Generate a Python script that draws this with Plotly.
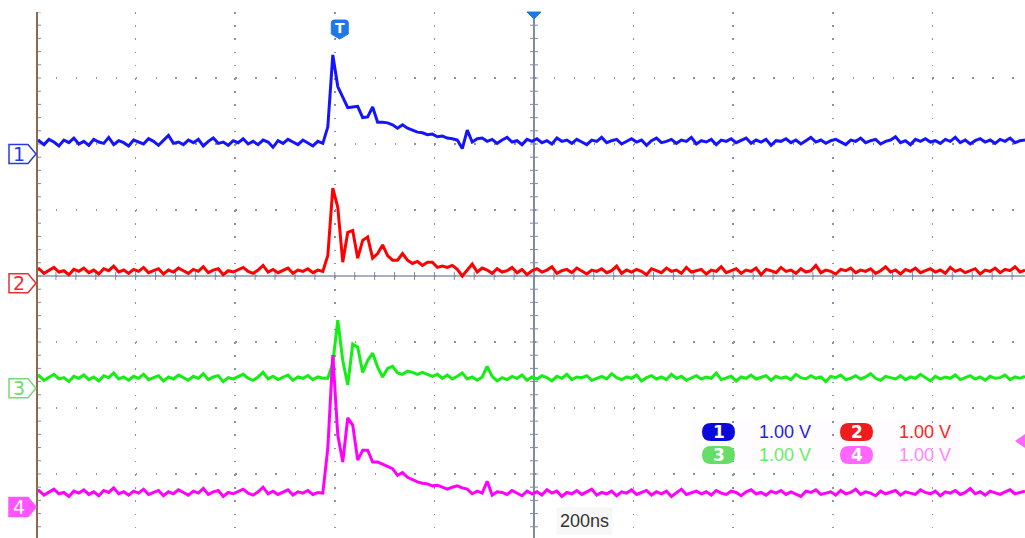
import plotly.graph_objects as go

# ---------------- scope settings ----------------
NS_PER_DIV = 200
VOLTS_PER_DIV = 1.0
T_START_NS = -1004
T_STEP_NS = 10
TRIG_NS = -390
X_RANGE = [-1000, 986]
Y_RANGE = [-3.97, 4.0]

ch_labels = ["1", "2", "3", "4"]
ch_scale_text = ["1.00 V", "1.00 V", "1.00 V", "1.00 V"]
ch_offset_div = [1.85, -0.11, -1.70, -3.50]
time_label = "200ns"

# ---------------- sampled voltages (V), one sample every 10 ns ----------------
ch1_v = [
    0.17, 0.20, 0.14, 0.22, 0.18, 0.12, 0.21, 0.17, 0.24, 0.15,
    0.19, 0.13, 0.22, 0.18, 0.16, 0.25, 0.14, 0.20, 0.17, 0.12,
    0.21, 0.18, 0.15, 0.23, 0.19, 0.13, 0.20, 0.28, 0.16, 0.18,
    0.14, 0.21, 0.17, 0.22, 0.12, 0.19, 0.24, 0.16, 0.18, 0.13,
    0.20, 0.17, 0.23, 0.15, 0.19, 0.14, 0.21, 0.18, 0.10, 0.20,
    0.16, 0.22, 0.18, 0.14, 0.21, 0.17, 0.12, 0.19, 0.16,
    0.41, 1.50, 1.02, 0.86, 0.70, 0.71, 0.72, 0.55, 0.56, 0.71,
    0.48, 0.48, 0.47, 0.44, 0.39, 0.44, 0.39, 0.36, 0.33, 0.32,
    0.29, 0.30, 0.26, 0.27, 0.24, 0.23, 0.21, 0.08, 0.36, 0.18,
    0.23, 0.24,
    0.19, 0.22, 0.16, 0.21, 0.25, 0.18, 0.20, 0.14, 0.22, 0.19,
    0.23, 0.17, 0.20, 0.15, 0.24, 0.19, 0.21, 0.16, 0.22, 0.18,
    0.14, 0.21, 0.19, 0.25, 0.17, 0.20, 0.22, 0.15, 0.19, 0.23,
    0.18, 0.21, 0.13, 0.20, 0.24, 0.17, 0.19, 0.22, 0.16, 0.21,
    0.19, 0.25, 0.15, 0.20, 0.18, 0.22, 0.14, 0.21, 0.19, 0.23,
    0.17, 0.20, 0.24, 0.16, 0.21, 0.18, 0.22, 0.13, 0.20, 0.19,
    0.23, 0.17, 0.21, 0.15, 0.20, 0.25, 0.18, 0.21, 0.16, 0.20,
    0.22, 0.18, 0.14, 0.21, 0.19, 0.24, 0.17, 0.20, 0.22, 0.15,
    0.19, 0.21, 0.26, 0.17, 0.20, 0.14, 0.22, 0.19, 0.23, 0.18,
    0.20, 0.16, 0.22, 0.19, 0.25, 0.17, 0.21, 0.15, 0.20, 0.23,
    0.18, 0.21, 0.16, 0.22, 0.19, 0.24, 0.17, 0.20, 0.21,
]

ch2_v = [
    0.18, 0.22, 0.15, 0.20, 0.24, 0.17, 0.19, 0.13, 0.21, 0.18,
    0.23, 0.16, 0.20, 0.14, 0.22, 0.19, 0.26, 0.17, 0.20, 0.15,
    0.21, 0.18, 0.24, 0.16, 0.19, 0.22, 0.14, 0.20, 0.17, 0.23,
    0.19, 0.15, 0.21, 0.18, 0.25, 0.16, 0.20, 0.22, 0.13, 0.19,
    0.17, 0.21, 0.24, 0.18, 0.15, 0.20, 0.27, 0.17, 0.21, 0.16,
    0.19, 0.23, 0.15, 0.20, 0.18, 0.22, 0.16, 0.20, 0.18,
    0.42, 1.44, 1.15, 0.32, 0.77, 0.80, 0.38, 0.65, 0.70, 0.38,
    0.45, 0.58, 0.42, 0.35, 0.35, 0.45, 0.35, 0.30, 0.33, 0.27,
    0.32, 0.32, 0.24, 0.26, 0.24, 0.27, 0.21, 0.11, 0.20, 0.29,
    0.17, 0.23,
    0.20, 0.15, 0.22, 0.17, 0.19, 0.24, 0.16, 0.21, 0.13, 0.19,
    0.22, 0.17, 0.20, 0.25, 0.15, 0.19, 0.21, 0.16, 0.23, 0.18,
    0.14, 0.20, 0.18, 0.22, 0.16, 0.19, 0.26, 0.15, 0.20, 0.17,
    0.21, 0.18, 0.13, 0.22, 0.19, 0.16, 0.23, 0.18, 0.20, 0.15,
    0.24, 0.17, 0.19, 0.21, 0.14, 0.20, 0.18, 0.25, 0.16, 0.19,
    0.22, 0.15, 0.20, 0.18, 0.23, 0.13, 0.21, 0.19, 0.16, 0.24,
    0.18, 0.20, 0.15, 0.22, 0.17, 0.19, 0.27, 0.16, 0.20, 0.18,
    0.14, 0.21, 0.19, 0.23, 0.16, 0.20, 0.18, 0.22, 0.15, 0.19,
    0.25, 0.17, 0.20, 0.14, 0.21, 0.18, 0.23, 0.16, 0.19, 0.22,
    0.17, 0.20, 0.15, 0.24, 0.18, 0.21, 0.16, 0.19, 0.22, 0.14,
    0.20, 0.18, 0.23, 0.16, 0.21, 0.19, 0.25, 0.17, 0.20,
]

ch3_v = [
    0.15, 0.19, 0.12, 0.17, 0.21, 0.14, 0.16, 0.10, 0.18, 0.15,
    0.20, 0.13, 0.17, 0.11, 0.19, 0.16, 0.23, 0.14, 0.17, 0.12,
    0.18, 0.15, 0.21, 0.13, 0.16, 0.19, 0.11, 0.17, 0.14, 0.20,
    0.16, 0.12, 0.18, 0.15, 0.22, 0.13, 0.17, 0.19, 0.10, 0.16,
    0.14, 0.18, 0.21, 0.15, 0.12, 0.17, 0.24, 0.14, 0.18, 0.13,
    0.16, 0.20, 0.12, 0.17, 0.15, 0.19, 0.13, 0.17, 0.15,
    0.15, 0.38, 1.03, 0.42, 0.05, 0.67, 0.62, 0.24, 0.42, 0.53,
    0.32, 0.17, 0.30, 0.33, 0.23, 0.21, 0.26, 0.24, 0.21, 0.24,
    0.21, 0.18, 0.21, 0.15, 0.20, 0.14, 0.18, 0.23, 0.14, 0.17,
    0.12, 0.17, 0.33, 0.18, 0.11,
    0.16, 0.13, 0.18, 0.15, 0.20, 0.12, 0.17, 0.14, 0.19, 0.16,
    0.11, 0.18, 0.15, 0.21, 0.13, 0.17, 0.16, 0.19, 0.12, 0.15,
    0.18, 0.14, 0.22, 0.16, 0.13, 0.17, 0.15, 0.20, 0.11, 0.16,
    0.19, 0.14, 0.17, 0.13, 0.21, 0.15, 0.18, 0.12, 0.16, 0.19,
    0.14, 0.17, 0.15, 0.23, 0.13, 0.16, 0.18, 0.11, 0.17, 0.15,
    0.20, 0.14, 0.16, 0.19, 0.12, 0.18, 0.15, 0.17, 0.13, 0.21,
    0.16, 0.14, 0.19, 0.15, 0.17, 0.10, 0.18, 0.16, 0.20, 0.13,
    0.15, 0.19, 0.14, 0.17, 0.22, 0.15, 0.12, 0.18, 0.16, 0.14,
    0.19, 0.13, 0.17, 0.15, 0.21, 0.16, 0.11, 0.18, 0.14, 0.17,
    0.15, 0.20, 0.13, 0.16, 0.19, 0.14, 0.17, 0.12, 0.18, 0.15,
    0.16, 0.20, 0.13, 0.17, 0.15, 0.18,
]

ch4_v = [
    0.21, 0.25, 0.18, 0.23, 0.27, 0.20, 0.22, 0.16, 0.24, 0.21,
    0.26, 0.19, 0.23, 0.17, 0.25, 0.22, 0.29, 0.20, 0.23, 0.18,
    0.24, 0.21, 0.27, 0.19, 0.22, 0.25, 0.17, 0.23, 0.20, 0.26,
    0.22, 0.18, 0.24, 0.21, 0.28, 0.19, 0.23, 0.25, 0.16, 0.22,
    0.20, 0.24, 0.27, 0.21, 0.18, 0.23, 0.30, 0.20, 0.24, 0.19,
    0.22, 0.26, 0.18, 0.23, 0.21, 0.25, 0.19, 0.22, 0.21,
    0.89, 2.30, 1.09, 0.68, 1.35, 1.24, 0.71, 0.86, 0.86, 0.68,
    0.68, 0.65, 0.61, 0.58, 0.48, 0.52, 0.45, 0.41, 0.38, 0.36,
    0.35, 0.32, 0.33, 0.30, 0.27, 0.30, 0.32, 0.29, 0.27, 0.20,
    0.24, 0.21, 0.39, 0.18, 0.23,
    0.22, 0.19, 0.25, 0.21, 0.17, 0.24, 0.20, 0.23, 0.18, 0.26,
    0.21, 0.24, 0.16, 0.22, 0.20, 0.25, 0.19, 0.23, 0.27, 0.18,
    0.22, 0.20, 0.24, 0.17, 0.23, 0.21, 0.26, 0.19, 0.22, 0.25,
    0.18, 0.23, 0.20, 0.24, 0.16, 0.22, 0.27, 0.19, 0.21, 0.24,
    0.20, 0.23, 0.18, 0.25, 0.21, 0.19, 0.24, 0.22, 0.17, 0.23,
    0.26, 0.20, 0.22, 0.18, 0.24, 0.21, 0.25, 0.19, 0.23, 0.20,
    0.16, 0.24, 0.22, 0.26, 0.19, 0.21, 0.23, 0.18, 0.25, 0.20,
    0.22, 0.27, 0.19, 0.23, 0.21, 0.17, 0.24, 0.20, 0.22, 0.25,
    0.18, 0.23, 0.21, 0.19, 0.26, 0.22, 0.20, 0.24, 0.17, 0.23,
    0.21, 0.25, 0.19, 0.22, 0.28, 0.20, 0.23, 0.18, 0.24, 0.21,
    0.19, 0.23, 0.26, 0.20, 0.22, 0.24,
]

ch_values = [ch1_v, ch2_v, ch3_v, ch4_v]
n_samples = len(ch1_v)
t_ns = [T_START_NS + T_STEP_NS * i for i in range(n_samples)]

# ---------------- styles ----------------
trace_colors = ["#1414ff", "#ff0000", "#14ee14", "#ff00ff"]
marker_line_colors = ["#2a3ae0", "#e83030", "#70dd70", "#ff55ff"]
marker_fill_colors = ["#ffffff", "#ffffff", "#ffffff", "#ff55ff"]
marker_text_colors = ["#2a3ae0", "#e83030", "#70dd70", "#ffffff"]
pill_colors = ["#0a0adc", "#ee1c1c", "#66dd66", "#ff66ff"]
scale_text_colors = ["#2222e6", "#ff2222", "#66ee66", "#ff88ff"]
GRID_COLOR = "#8a92aa"
CENTER_COLOR = "#7f8aa6"
EDGE_COLOR = "#8a6a48"
ACCENT_BLUE = "#1e78e6"

W, H = 1025, 538
ML, MT = 36, 12
PW, PH = W - ML, H - MT


def pxx(px):
    return (px - ML) / PW


def pxy(py):
    return (H - py) / PH


def div2paper(d):
    return (d - Y_RANGE[0]) / (Y_RANGE[1] - Y_RANGE[0])


fig = go.Figure()
for vals, off, col, lab in zip(ch_values, ch_offset_div, trace_colors, ch_labels):
    fig.add_trace(go.Scatter(
        x=t_ns, y=[off + v / VOLTS_PER_DIV for v in vals],
        mode="lines", line=dict(color=col, width=3),
        name="CH" + lab, showlegend=False, hoverinfo="skip"))

shapes = []
annotations = []

# centre cross lines
shapes.append(dict(type="line", xref="x", yref="y", x0=0, x1=0, y0=Y_RANGE[0], y1=Y_RANGE[1],
                   line=dict(color=CENTER_COLOR, width=2), layer="between"))
shapes.append(dict(type="line", xref="x", yref="y", x0=X_RANGE[0], x1=X_RANGE[1], y0=0, y1=0,
                   line=dict(color="#8c94ab", width=1.5), layer="between"))

# tick marks on the centre lines and on the left edge
minor_x = NS_PER_DIV / 5
minor_y = 0.2
segs = []
k = 0
while X_RANGE[0] + k * minor_x <= X_RANGE[1]:
    xx = X_RANGE[0] + k * minor_x
    segs.append("M%.2f,%.4f L%.2f,%.4f" % (xx, -0.06, xx, 0.06))
    k += 1
k = 0
while Y_RANGE[1] - k * minor_y >= Y_RANGE[0]:
    yy = Y_RANGE[1] - k * minor_y
    segs.append("M%.2f,%.4f L%.2f,%.4f" % (-8, yy, 8, yy))
    segs.append("M%.2f,%.4f L%.2f,%.4f" % (X_RANGE[0], yy, X_RANGE[0] + 10, yy))
    k += 1
shapes.append(dict(type="path", xref="x", yref="y", path=" ".join(segs),
                   line=dict(color=CENTER_COLOR, width=1), layer="between"))

# left edge line
shapes.append(dict(type="line", xref="paper", yref="paper", x0=0.001, x1=0.001, y0=0, y1=1,
                   line=dict(color=EDGE_COLOR, width=2), layer="above"))

# channel ground markers
for lab, off, lc, fc, tc in zip(ch_labels, ch_offset_div, marker_line_colors,
                                marker_fill_colors, marker_text_colors):
    yc = div2paper(off)
    hh = 9.5 / PH
    x0, x1, xt = pxx(9), pxx(28), pxx(36)
    path = "M%.5f,%.5f L%.5f,%.5f L%.5f,%.5f L%.5f,%.5f L%.5f,%.5f Z" % (
        x0, yc + hh, x1, yc + hh, xt, yc, x1, yc - hh, x0, yc - hh)
    shapes.append(dict(type="path", xref="paper", yref="paper", path=path,
                       fillcolor=fc, line=dict(color=lc, width=1.5), layer="above"))
    annotations.append(dict(xref="paper", yref="paper", x=pxx(19), y=yc, text=lab,
                            showarrow=False, xanchor="center", yanchor="middle",
                            font=dict(family="DejaVu Sans", size=19, color=tc)))

# trigger marker "T"
half = 8.5 / 0.498
top, body, tip = pxy(20), pxy(34), pxy(39)
rr = 3 / PH
shield = ("M%.2f,%.5f L%.2f,%.5f Q%.2f,%.5f %.2f,%.5f L%.2f,%.5f L%.2f,%.5f L%.2f,%.5f "
          "L%.2f,%.5f Q%.2f,%.5f %.2f,%.5f Z") % (
    TRIG_NS - half + 6, top, TRIG_NS + half - 6, top, TRIG_NS + half, top, TRIG_NS + half, top - rr,
    TRIG_NS + half, body, TRIG_NS, tip, TRIG_NS - half, body,
    TRIG_NS - half, top - rr, TRIG_NS - half, top, TRIG_NS - half + 6, top)
shapes.append(dict(type="path", xref="x", yref="paper", path=shield,
                   fillcolor=ACCENT_BLUE, line=dict(color=ACCENT_BLUE, width=1), layer="above"))
annotations.append(dict(xref="x", yref="paper", x=TRIG_NS, y=pxy(28), text="<b>T</b>",
                        showarrow=False, xanchor="center", yanchor="middle",
                        font=dict(family="DejaVu Sans", size=14, color="#ffffff")))

# time reference triangle at top centre
tri_half = 7 / 0.498
shapes.append(dict(type="path", xref="x", yref="paper",
                   path="M%.2f,1 L%.2f,1 L0,%.5f Z" % (-tri_half, tri_half, pxy(19)),
                   fillcolor=ACCENT_BLUE, line=dict(color=ACCENT_BLUE, width=1), layer="above"))

# channel scale legend
legend_rows = [(432, 0), (455, 1)]
pill_x = [(702, 735), (840, 873)]
text_x = [757, 897]
shapes.append(dict(type="rect", xref="paper", yref="paper", x0=pxx(690), x1=pxx(960),
                   y0=pxy(469), y1=pxy(420), fillcolor="#fefcfe", line=dict(width=0), layer="between"))
for idx, lab in enumerate(ch_labels):
    row = idx // 2
    col = idx % 2
    yc_px = legend_rows[row][0]
    xa, xb = pill_x[col]
    r = 9
    pts = [
        ("M", [(xa + r, yc_px - r)]),
        ("L", [(xb - r, yc_px - r)]),
        ("Q", [(xb, yc_px - r), (xb, yc_px)]),
        ("Q", [(xb, yc_px + r), (xb - r, yc_px + r)]),
        ("L", [(xa + r, yc_px + r)]),
        ("Q", [(xa, yc_px + r), (xa, yc_px)]),
        ("Q", [(xa, yc_px - r), (xa + r, yc_px - r)]),
    ]
    path = " ".join(c + " ".join("%.5f,%.5f" % (pxx(px), pxy(py)) for px, py in p) for c, p in pts) + " Z"
    shapes.append(dict(type="path", xref="paper", yref="paper", path=path,
                       fillcolor=pill_colors[idx], line=dict(width=0), layer="above"))
    annotations.append(dict(xref="paper", yref="paper", x=pxx((xa + xb) / 2), y=pxy(yc_px),
                            text="<b>%s</b>" % lab, showarrow=False, xanchor="center", yanchor="middle",
                            font=dict(family="DejaVu Sans", size=17, color="#ffffff")))
    annotations.append(dict(xref="paper", yref="paper", x=pxx(text_x[col]), y=pxy(yc_px),
                            text=ch_scale_text[idx], showarrow=False, xanchor="left", yanchor="middle",
                            font=dict(family="Liberation Sans", size=18, color=scale_text_colors[idx])))

# channel 4 trigger level marker on the right
shapes.append(dict(type="path", xref="paper", yref="paper",
                   path="M%.5f,%.5f L%.5f,%.5f L%.5f,%.5f Z" % (
                       pxx(1015), pxy(441), pxx(1025), pxy(434), pxx(1025), pxy(448)),
                   fillcolor="#ff66ff", line=dict(width=0), layer="above"))

# time base label
annotations.append(dict(xref="paper", yref="paper", x=pxx(584), y=pxy(521), text=time_label,
                        showarrow=False, xanchor="center", yanchor="middle", bgcolor="#f7f7f7",
                        borderpad=3,
                        font=dict(family="Liberation Sans", size=18, color="#333333")))

fig.update_layout(
    width=W, height=H,
    margin=dict(l=ML, r=0, t=MT, b=0, pad=0),
    paper_bgcolor="#ffffff", plot_bgcolor="#ffffff",
    showlegend=False,
    shapes=shapes, annotations=annotations,
    xaxis=dict(range=X_RANGE, tickmode="linear", tick0=X_RANGE[0], dtick=NS_PER_DIV,
               showgrid=True, gridcolor=GRID_COLOR, gridwidth=1.5, griddash="1.5px,11.7px",
               showticklabels=False, ticks="", zeroline=False, showline=False, fixedrange=True),
    yaxis=dict(range=Y_RANGE, tickmode="linear", tick0=0, dtick=1,
               showgrid=True, gridcolor=GRID_COLOR, gridwidth=1.5, griddash="1.5px,18.42px",
               showticklabels=False, ticks="", zeroline=False, showline=False, fixedrange=True),
)

fig.write_html("out.html", config={"displayModeBar": False, "staticPlot": True})
